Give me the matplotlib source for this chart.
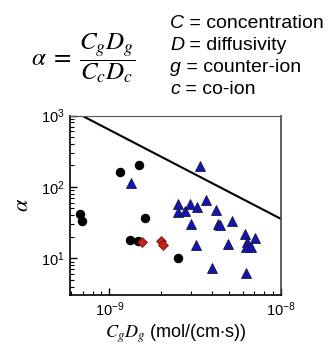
import numpy as np
import matplotlib
matplotlib.use("Agg")
import matplotlib.pyplot as plt

plt.rcParams['font.family'] = ['Liberation Sans', 'DejaVu Sans']
plt.rcParams['mathtext.fontset'] = 'stix'

# black circles
circ_x = [6.7e-10, 6.9e-10, 1.16e-9, 1.49e-9, 1.61e-9, 1.32e-9, 1.47e-9, 2.51e-9]
circ_y = [41.7, 33.6, 164, 200, 36.6, 18.1, 17.4, 10.1]

# red diamonds
diam_x = [1.56e-9, 2.01e-9, 2.05e-9]
diam_y = [16.8, 17.2, 15.1]

# blue triangles
tri_x = [3.38e-9, 1.34e-9, 2.53e-9, 2.53e-9, 2.76e-9, 2.96e-9, 3.27e-9, 3.66e-9,
         4.18e-9, 2.99e-9, 4.33e-9, 4.45e-9, 5.23e-9, 3.21e-9, 4.91e-9, 3.96e-9,
         6.17e-9, 6.4e-9, 6.25e-9, 6.74e-9, 7.11e-9, 6.25e-9]
tri_y = [195, 114, 58, 44, 46, 58, 53, 66,
         48, 30.5, 30.5, 29.5, 33.6, 15.1, 15.9, 7.2,
         22.2, 16.8, 14.6, 14.6, 19.4, 6.15]

# upper bound line
line_x = [6.8e-10, 1e-8]
line_y = [1020, 35.8]

# axis ticks
x_major = [1e-9, 1e-8]
x_major_labels = [r'$\mathregular{10^{-9}}$', r'$\mathregular{10^{-8}}$']
y_major = [10, 100, 1000]
y_major_labels = [r'$\mathregular{10^{1}}$', r'$\mathregular{10^{2}}$', r'$\mathregular{10^{3}}$']

# symbol definitions
sym_letters = ['C', 'D', 'g', 'c']
sym_meaning = [' = concentration', ' = diffusivity', ' = counter-ion', ' = co-ion']

fig = plt.figure(figsize=(3.29, 3.46), dpi=100)
ax = fig.add_axes([0.213, 0.147, 0.640, 0.519])

ax.plot(line_x, line_y, color='black', lw=1.5, zorder=2)
ax.plot(circ_x, circ_y, 'o', color='black', ms=5.8, zorder=3)
ax.plot(tri_x, tri_y, '^', mfc='#1414b4', mec='#1a1a3a', mew=0.6, ms=7.5, zorder=3)
ax.plot(diam_x, diam_y, 'D', mfc='#c8201c', mec='#5a1010', mew=0.5, ms=4.8, zorder=4)

ax.set_xscale('log')
ax.set_yscale('log')
xlim = (5.9e-10, 1e-8)
ylim = (3.04, 1000)
ax.set_xlim(*xlim)
ax.set_ylim(*ylim)

# minor ticks inside the visible range only
x_minor = [m * d for d in [1e-10, 1e-9] for m in range(2, 10) if xlim[0] <= m * d <= xlim[1]]
y_minor = [m * d for d in [1, 10, 100] for m in range(2, 10) if ylim[0] <= m * d <= ylim[1]]

ax.set_xticks(x_major, x_major_labels)
ax.set_yticks(y_major, y_major_labels)
ax.set_xticks(x_minor, [''] * len(x_minor), minor=True)
ax.set_yticks(y_minor, [''] * len(y_minor), minor=True)

ax.tick_params(which='both', direction='in', top=False, right=False, labelsize=10.5, pad=4)
ax.tick_params(which='major', length=5, width=1)
ax.tick_params(which='minor', length=3, width=0.8)
for side in ['left', 'bottom', 'right']:
    ax.spines[side].set_linewidth(1.2)
ax.spines['top'].set_linewidth(0.8)
ax.spines['right'].set_color('#444444')
ax.spines['top'].set_color('#555555')

ax.set_xlabel(r'$C_gD_g$ (mol/(cm$\cdot$s))', fontsize=13, labelpad=2)
ax.set_ylabel(r'$\alpha$', fontsize=16, labelpad=6)

fig.text(0.252, 0.832, r'$\alpha\;=\;\dfrac{C_gD_g}{C_cD_c}$', fontsize=18,
         ha='center', va='center')

y0 = 0.918
for i in range(len(sym_letters)):
    yb = y0 - 0.063 * i
    t = fig.text(0.517, yb, sym_letters[i], fontsize=14, style='italic',
                 ha='left', va='baseline')
    fig.add_artist(plt.Annotation(sym_meaning[i], xy=(1, yb),
                                  xycoords=(t, 'figure fraction'),
                                  fontsize=14, ha='left', va='baseline'))

fig.savefig('out.png', dpi=100)
